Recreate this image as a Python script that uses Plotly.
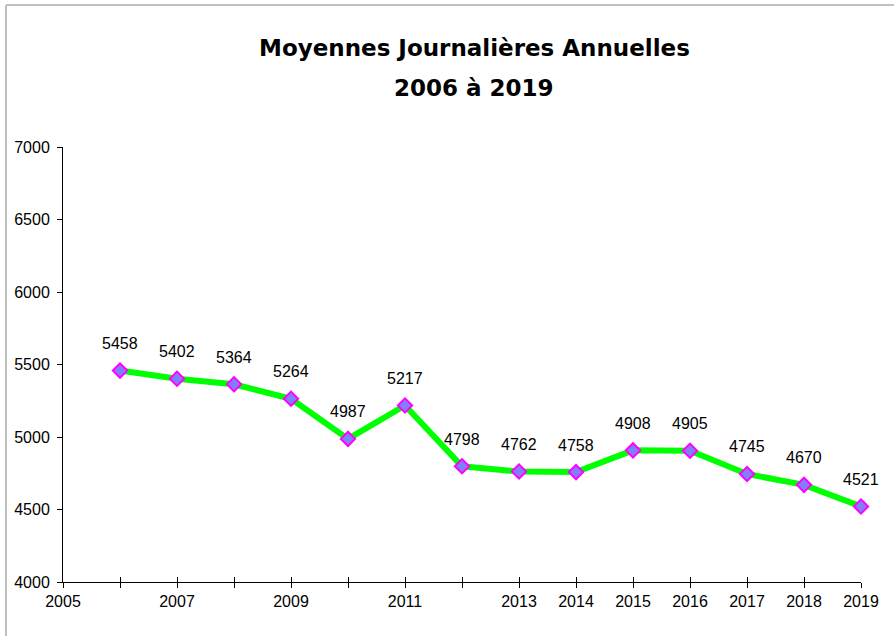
import plotly.graph_objects as go

# Annual daily averages
years = [2006, 2007, 2008, 2009, 2010, 2011, 2012, 2013, 2014, 2015, 2016, 2017, 2018, 2019]
values = [5458, 5402, 5364, 5264, 4987, 5217, 4798, 4762, 4758, 4908, 4905, 4745, 4670, 4521]

# Axis ticks
x_tick_vals = list(range(2005, 2020))
x_tick_text = ["2005", "", "2007", "", "2009", "", "2011", "", "2013", "2014",
               "2015", "2016", "2017", "2018", "2019"]
y_tick_vals = [4000, 4500, 5000, 5500, 6000, 6500, 7000]

title_lines = ["Moyennes Journalières Annuelles", "2006 à 2019"]

W, H = 894, 636
ML, MR, MT, MB = 63, 33, 147, 54
PW, PH = W - ML - MR, H - MT - MB

text_font = dict(family="Arial, Liberation Sans", size=16, color="#000")

fig = go.Figure()
fig.add_trace(go.Scatter(
    x=years, y=values, mode="lines+markers",
    line=dict(color="#00FF00", width=6),
    marker=dict(symbol="diamond", size=11, color="#8080FF",
                line=dict(color="#FF00FF", width=2)),
    cliponaxis=False, showlegend=False, hoverinfo="x+y",
))

# Value labels above each point
for xv, yv in zip(years, values):
    fig.add_annotation(x=xv, y=yv, text=str(yv), showarrow=False,
                       yshift=27, font=text_font)

# Invisible trace on a second x axis, used for inward tick marks (crossing ticks)
fig.add_trace(go.Scatter(x=[2005, 2019], y=[4000, 4000], xaxis="x2",
                         mode="markers", marker=dict(opacity=0), showlegend=False,
                         hoverinfo="skip"))

# Two-line bold title
for line, ypx in zip(title_lines, [48, 88]):
    fig.add_annotation(
        xref="paper", yref="paper",
        x=(474 - ML) / PW, y=1 + (MT - ypx) / PH,
        xanchor="center", yanchor="middle", showarrow=False,
        text=f"<b>{line}</b>",
        font=dict(family="Comic Sans MS, DejaVu Sans", size=23, color="#000"),
    )

fig.update_layout(
    width=W, height=H,
    margin=dict(l=ML, r=MR, t=MT, b=MB, pad=0),
    paper_bgcolor="white", plot_bgcolor="white",
    xaxis=dict(
        range=[2005, 2019], tickmode="array", tickvals=x_tick_vals, ticktext=x_tick_text,
        ticks="outside", ticklen=5, tickcolor="#000", tickwidth=1,
        showline=True, linecolor="#000", linewidth=1,
        showgrid=False, zeroline=False, tickfont=text_font,
    ),
    xaxis2=dict(
        range=[2005, 2019], overlaying="x", side="bottom", anchor="y",
        tickmode="array", tickvals=x_tick_vals, ticktext=[""] * len(x_tick_vals),
        ticks="inside", ticklen=5, tickcolor="#000", tickwidth=1,
        showline=False, showgrid=False, zeroline=False, showticklabels=False,
    ),
    yaxis=dict(
        range=[4000, 7000], tickmode="array", tickvals=y_tick_vals,
        ticks="outside", ticklen=5, tickcolor="#000", tickwidth=1,
        showline=True, linecolor="#000", linewidth=1,
        showgrid=False, zeroline=False, tickfont=text_font,
        ticklabelstandoff=4,
    ),
    shapes=[
        # Chart frame (top and left edges visible)
        dict(type="line", xref="paper", yref="paper",
             x0=(6 - ML) / PW, x1=(W + 5 - ML) / PW,
             y0=1 + (MT - 5) / PH, y1=1 + (MT - 5) / PH,
             line=dict(color="#C0C0C0", width=2)),
        dict(type="line", xref="paper", yref="paper",
             x0=(6 - ML) / PW, x1=(6 - ML) / PW,
             y0=-(MB + 5) / PH, y1=1 + (MT - 5) / PH,
             line=dict(color="#C0C0C0", width=2)),
    ],
)

fig.write_html("out.html")
